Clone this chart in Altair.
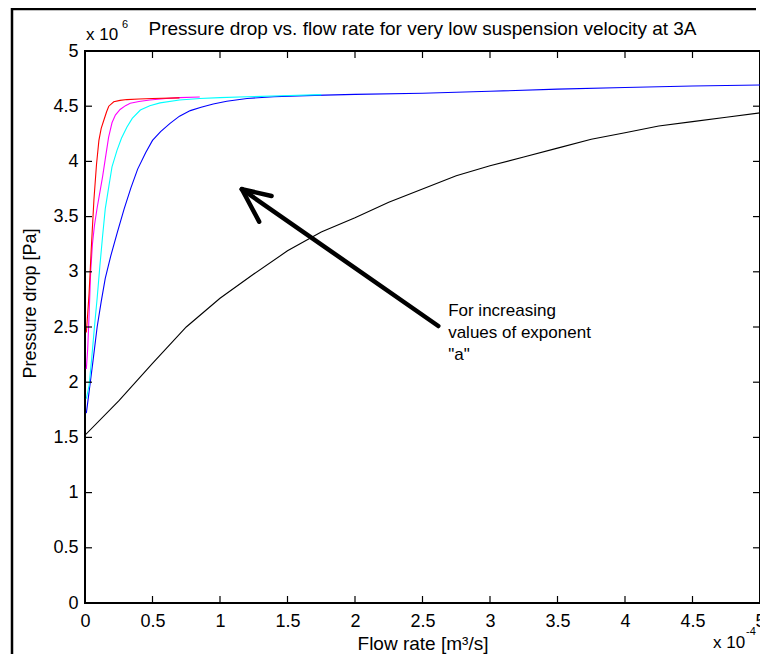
import altair as alt
import pandas as pd

# ---- tick values ----
x_ticks = [0, 0.5, 1, 1.5, 2, 2.5, 3, 3.5, 4, 4.5, 5]
y_ticks = [0, 0.5, 1, 1.5, 2, 2.5, 3, 3.5, 4, 4.5, 5]

# ---- series (flow rate x1e-4 m3/s, pressure drop x1e6 Pa) ----
flow_black = [0, 0.25, 0.5, 0.75, 1.0, 1.25, 1.5, 1.75, 2.0, 2.25, 2.5, 2.75,
              3.0, 3.25, 3.5, 3.75, 4.0, 4.25, 4.5, 4.75, 5.0]
dp_black = [1.52, 1.83, 2.17, 2.50, 2.76, 2.98, 3.19, 3.36, 3.49, 3.63, 3.75, 3.87,
            3.96, 4.04, 4.12, 4.20, 4.26, 4.32, 4.36, 4.40, 4.44]

flow_blue = [0.01, 0.03, 0.06, 0.09, 0.12, 0.15, 0.19, 0.24, 0.29, 0.34, 0.39, 0.45,
             0.5, 0.56, 0.63, 0.7, 0.78, 0.86, 0.95, 1.05, 1.2, 1.4, 1.7, 2.0,
             2.5, 3.0, 3.5, 4.0, 4.5, 5.0]
dp_blue = [1.72, 1.91, 2.20, 2.50, 2.73, 2.94, 3.14, 3.36, 3.57, 3.76, 3.93, 4.08,
           4.19, 4.27, 4.345, 4.41, 4.46, 4.49, 4.52, 4.545, 4.57, 4.585, 4.598, 4.607,
           4.617, 4.635, 4.655, 4.67, 4.683, 4.692]

flow_cyan = [0.01, 0.03, 0.05, 0.07, 0.09, 0.11, 0.13, 0.15, 0.176, 0.2, 0.237, 0.27,
             0.31, 0.35, 0.41, 0.48, 0.556, 0.7, 0.85, 1.0, 1.2, 1.45, 1.75]
dp_cyan = [1.85, 1.97, 2.22, 2.50, 2.76, 3.05, 3.32, 3.57, 3.77, 3.95, 4.10, 4.21,
           4.31, 4.39, 4.465, 4.505, 4.53, 4.556, 4.57, 4.578, 4.585, 4.595, 4.605]

flow_magenta = [0.01, 0.02, 0.03, 0.042, 0.055, 0.07, 0.09, 0.11, 0.13, 0.15, 0.175,
                0.2, 0.225, 0.26, 0.3, 0.335, 0.4, 0.48, 0.6, 0.7, 0.85]
dp_magenta = [2.12, 2.30, 2.60, 3.00, 3.25, 3.42, 3.58, 3.72, 3.86, 4.02, 4.22,
              4.35, 4.42, 4.47, 4.505, 4.526, 4.543, 4.556, 4.57, 4.578, 4.583]

flow_red = [0.01, 0.02, 0.03, 0.046, 0.066, 0.085, 0.103, 0.12, 0.14, 0.16, 0.176,
            0.213, 0.26, 0.31, 0.4, 0.5, 0.7]
dp_red = [2.45, 2.62, 2.80, 3.20, 3.65, 3.97, 4.19, 4.30, 4.375, 4.45, 4.50,
          4.54, 4.553, 4.56, 4.565, 4.57, 4.575]

series = [
    ("black", flow_black, dp_black, "#000000"),
    ("blue", flow_blue, dp_blue, "#0000ff"),
    ("cyan", flow_cyan, dp_cyan, "#00ffff"),
    ("magenta", flow_magenta, dp_magenta, "#ff00ff"),
    ("red", flow_red, dp_red, "#ff0000"),
]

# ---- annotation ----
arrow_x = [2.617, 1.162, 1.162]
arrow_y = [2.509, 3.748, 3.748]
arrow_x2 = [1.162, 1.382, 1.290]
arrow_y2 = [3.748, 3.687, 3.454]
note_text = 'For increasing\nvalues of exponent\n"a"'
note_x = 2.69
note_y = 2.60

title_text = "Pressure drop vs. flow rate for very low suspension velocity at 3A"
x_title = "Flow rate [m\u00b3/s]"
y_title = "Pressure drop [Pa]"

FONT = "Liberation Sans"
W, H = 675, 552
TICK = 7

xs = alt.Scale(domain=[0, 5], nice=False, zero=False)
ys = alt.Scale(domain=[0, 5], nice=False, zero=False)

x_axis = alt.Axis(values=x_ticks, format="~g", tickSize=0, domain=False, grid=False,
                  labelFontSize=18, labelPadding=9, labelFlush=False, labelOverlap=False,
                  title=x_title, titleFontSize=19, titleFontWeight="normal",
                  titleY=46, titleBaseline="alphabetic")
y_axis = alt.Axis(values=y_ticks, format="~g", tickSize=0, domain=False, grid=False,
                  labelFontSize=18, labelPadding=7, labelFlush=False, labelOverlap=False,
                  title=y_title, titleFontSize=18, titleFontWeight="normal",
                  titleAngle=270, titleX=-50, titleY=252, titleAlign="center",
                  titleBaseline="alphabetic")

layers = []
for name, xv, yv, col in series:
    df = pd.DataFrame({"flow": xv, "dp": yv})
    layers.append(
        alt.Chart(df).mark_line(color=col, strokeWidth=1.1, clip=True).encode(
            x=alt.X("flow:Q", scale=xs, axis=x_axis),
            y=alt.Y("dp:Q", scale=ys, axis=y_axis),
        )
    )

xt = pd.DataFrame({"flow": x_ticks})
yt = pd.DataFrame({"dp": y_ticks})
tick_bottom = alt.Chart(xt).mark_rule(color="black", strokeWidth=1.2).encode(
    x=alt.X("flow:Q", scale=xs, axis=x_axis), y=alt.value(H), y2=alt.value(H - TICK))
tick_top = alt.Chart(xt).mark_rule(color="black", strokeWidth=1.2).encode(
    x=alt.X("flow:Q", scale=xs, axis=x_axis), y=alt.value(0), y2=alt.value(TICK))
tick_left = alt.Chart(yt).mark_rule(color="black", strokeWidth=1.2).encode(
    y=alt.Y("dp:Q", scale=ys, axis=y_axis), x=alt.value(0), x2=alt.value(TICK))
tick_right = alt.Chart(yt).mark_rule(color="black", strokeWidth=1.2).encode(
    y=alt.Y("dp:Q", scale=ys, axis=y_axis), x=alt.value(W), x2=alt.value(W - TICK))

arrow_df = pd.DataFrame({"flow": arrow_x, "dp": arrow_y, "flow2": arrow_x2, "dp2": arrow_y2})
arrow = alt.Chart(arrow_df).mark_rule(color="black", strokeWidth=4.5, strokeCap="round").encode(
    x=alt.X("flow:Q", scale=xs, axis=x_axis), y=alt.Y("dp:Q", scale=ys, axis=y_axis),
    x2="flow2:Q", y2="dp2:Q")

note_df = pd.DataFrame({"flow": [note_x], "dp": [note_y], "t": [note_text]})
note = alt.Chart(note_df).mark_text(align="left", baseline="alphabetic", fontSize=17,
                                    font=FONT, color="black", lineBreak="\n",
                                    lineHeight=22).encode(
    x=alt.X("flow:Q", scale=xs, axis=x_axis), y=alt.Y("dp:Q", scale=ys, axis=y_axis),
    text="t:N")

one = pd.DataFrame({"k": [0]})


def label(txt, x, y, size, align="left"):
    return alt.Chart(one).mark_text(align=align, baseline="alphabetic", fontSize=size,
                                    font=FONT, color="black").encode(
        x=alt.value(x), y=alt.value(y), text=alt.value(txt))


title_mark = label(title_text, W / 2, -16, 19, align="center")
exp_top = label("x 10", 1, -11, 17)
exp_top_sup = label("6", 37, -23, 11)
exp_bot = label("x 10", 628, H + 45, 17)
exp_bot_sup = label("-4", 661, H + 32, 11)

frame_left = alt.Chart(one).mark_rule(color="black", strokeWidth=2.5).encode(
    x=alt.value(-73), y=alt.value(-43), y2=alt.value(H + 60))
frame_top = alt.Chart(one).mark_rule(color="black", strokeWidth=2.5).encode(
    x=alt.value(-73), x2=alt.value(671), y=alt.value(-42))

chart = alt.layer(
    *layers, tick_bottom, tick_top, tick_left, tick_right, arrow, note,
    title_mark, exp_top, exp_top_sup, exp_bot, exp_bot_sup, frame_left, frame_top,
).properties(
    width=W, height=H,
    padding={"left": 77, "top": 43, "right": 0, "bottom": 51},
    autosize=alt.AutoSizeParams(type="none"),
    background="white",
).configure_axis(
    labelFont=FONT, titleFont=FONT, labelColor="black", titleColor="black",
).configure_view(
    stroke="black", strokeWidth=2,
)

chart.save("out.html", embed_options={"renderer": "svg", "actions": False})
